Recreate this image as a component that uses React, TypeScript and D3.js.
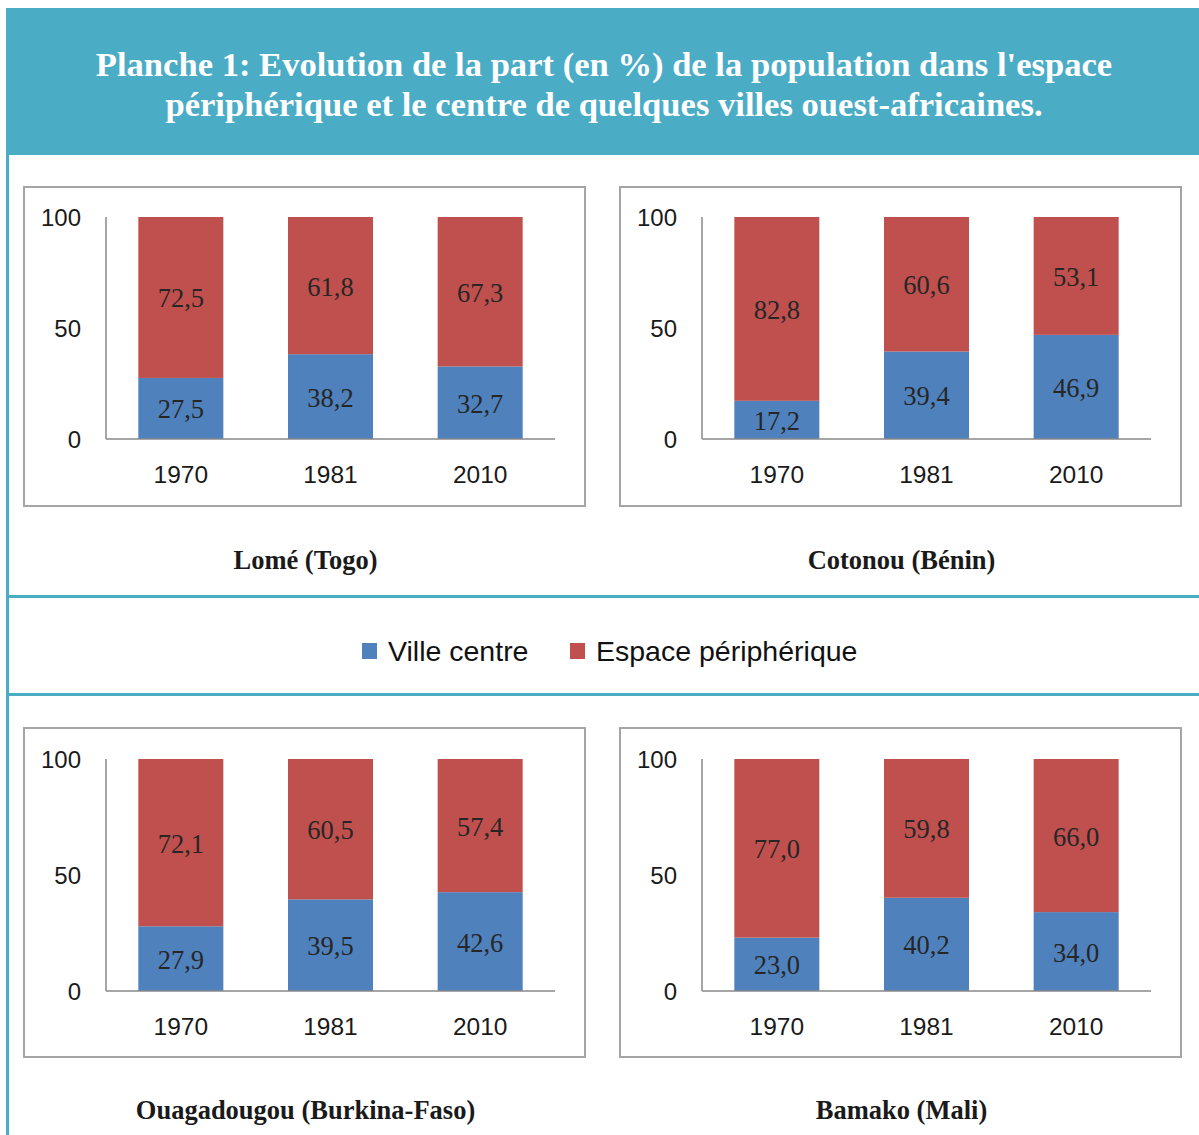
import React from "react";
import * as d3 from "d3";

const years = ["1970", "1981", "2010"];
const cities = ["Lomé (Togo)", "Cotonou (Bénin)", "Ouagadougou (Burkina-Faso)", "Bamako (Mali)"];
const villeCentre = [
  [27.5, 38.2, 32.7],
  [17.2, 39.4, 46.9],
  [27.9, 39.5, 42.6],
  [23.0, 40.2, 34.0],
];
const espacePeripherique = [
  [72.5, 61.8, 67.3],
  [82.8, 60.6, 53.1],
  [72.1, 60.5, 57.4],
  [77.0, 59.8, 66.0],
];
const yTicks = [0, 50, 100];
const seriesNames = ["Ville centre", "Espace périphérique"];
const titleLines = [
  "Planche 1: Evolution de la part (en %) de la population dans l'espace",
  "périphérique et le centre de quelques villes ouest-africaines.",
];

const BLUE = "#4F81BD";
const RED = "#C0504D";
const TEAL = "#4BACC6";
const fmt = (v: number) => v.toFixed(1).replace(".", ",");

type PanelProps = {
  idx: number;
  bx: number;
  by: number;
  bw: number;
  bh: number;
  top: number;
  bottom: number;
  titleY: number;
};

function Panel({ idx, bx, by, bw, bh, top, bottom, titleY }: PanelProps) {
  const axisX = bx + 82;
  const x = d3
    .scaleBand<string>()
    .domain(years)
    .range([axisX, axisX + 449])
    .paddingInner(0.432)
    .paddingOuter(0.216);
  const y = d3.scaleLinear().domain([0, 100]).range([bottom, top]);
  const serif = "'Liberation Serif', 'Times New Roman', serif";
  const sans = "'Liberation Sans', Arial, sans-serif";
  return (
    <g>
      <rect x={bx} y={by} width={bw} height={bh} fill="#fff" stroke="#A5A5A5" strokeWidth={2} />
      {years.map((yr, i) => {
        const v1 = villeCentre[idx][i];
        const v2 = espacePeripherique[idx][i];
        const x0 = x(yr)!;
        const w = x.bandwidth();
        return (
          <g key={yr}>
            <rect x={x0} y={y(v1)} width={w} height={y(0) - y(v1)} fill={BLUE} />
            <rect x={x0} y={y(v1 + v2)} width={w} height={y(v1) - y(v1 + v2)} fill={RED} />
            <text
              x={x0 + w / 2}
              y={(y(0) + y(v1)) / 2 + 1}
              textAnchor="middle"
              dominantBaseline="central"
              fontFamily={serif}
              fontSize={26.5}
              fill="#262626"
            >
              {fmt(v1)}
            </text>
            <text
              x={x0 + w / 2}
              y={(y(v1) + y(v1 + v2)) / 2 + 1}
              textAnchor="middle"
              dominantBaseline="central"
              fontFamily={serif}
              fontSize={26.5}
              fill="#262626"
            >
              {fmt(v2)}
            </text>
            <text
              x={x0 + w / 2}
              y={bottom + 35}
              textAnchor="middle"
              dominantBaseline="central"
              fontFamily={sans}
              fontSize={24.5}
              fill="#1a1a1a"
            >
              {yr}
            </text>
          </g>
        );
      })}
      <line x1={axisX} x2={axisX} y1={top} y2={bottom} stroke="#888" strokeWidth={1.5} />
      <line x1={axisX} x2={axisX + 449} y1={bottom} y2={bottom} stroke="#888" strokeWidth={1.5} />
      {yTicks.map((t) => (
        <text
          key={t}
          x={axisX - 25}
          y={y(t)}
          textAnchor="end"
          dominantBaseline="central"
          fontFamily={sans}
          fontSize={24}
          fill="#1a1a1a"
        >
          {t}
        </text>
      ))}
      <text
        x={bx + bw / 2 + 1}
        y={titleY}
        textAnchor="middle"
        dominantBaseline="central"
        fontFamily={serif}
        fontWeight="bold"
        fontSize={26.5}
        fill="#1a1a1a"
      >
        {cities[idx]}
      </text>
    </g>
  );
}

export default function App() {
  const W = 1199;
  const H = 1135;
  const panels: PanelProps[] = [
    { idx: 0, bx: 24, by: 187, bw: 561, bh: 319, top: 217, bottom: 439, titleY: 560 },
    { idx: 1, bx: 620, by: 187, bw: 561, bh: 319, top: 217, bottom: 439, titleY: 560 },
    { idx: 2, bx: 24, by: 728, bw: 561, bh: 329, top: 759, bottom: 991, titleY: 1110 },
    { idx: 3, bx: 620, by: 728, bw: 561, bh: 329, top: 759, bottom: 991, titleY: 1110 },
  ];
  const sans = "'Liberation Sans', Arial, sans-serif";
  return (
    <svg
      width={W}
      height={H}
      style={{ position: "absolute", left: 0, top: 0, display: "block" }}
      viewBox={`0 0 ${W} ${H}`}
    >
      <rect x={0} y={0} width={W} height={H} fill="#fff" />
      <rect x={6} y={8} width={W - 6} height={147} fill={TEAL} />
      <rect x={6} y={8} width={3} height={H - 8} fill={TEAL} />
      <rect x={6} y={595} width={W - 6} height={3} fill={TEAL} />
      <rect x={6} y={693} width={W - 6} height={3} fill={TEAL} />
      {titleLines.map((l, i) => (
        <text
          key={i}
          x={604}
          y={64 + i * 40}
          textAnchor="middle"
          dominantBaseline="central"
          fontFamily="'Liberation Serif', 'Times New Roman', serif"
          fontWeight="bold"
          fontSize={34.6}
          fill="#fff"
        >
          {l}
        </text>
      ))}
      {panels.map((p) => (
        <Panel key={p.idx} {...p} />
      ))}
      <g>
        <rect x={362} y={643} width={15} height={16} fill={BLUE} />
        <text x={388} y={651} dominantBaseline="central" fontFamily={sans} fontSize={28.5} fill="#111">
          {seriesNames[0]}
        </text>
        <rect x={570} y={643} width={15} height={16} fill={RED} />
        <text x={596} y={651} dominantBaseline="central" fontFamily={sans} fontSize={28.5} fill="#111">
          {seriesNames[1]}
        </text>
      </g>
    </svg>
  );
}
